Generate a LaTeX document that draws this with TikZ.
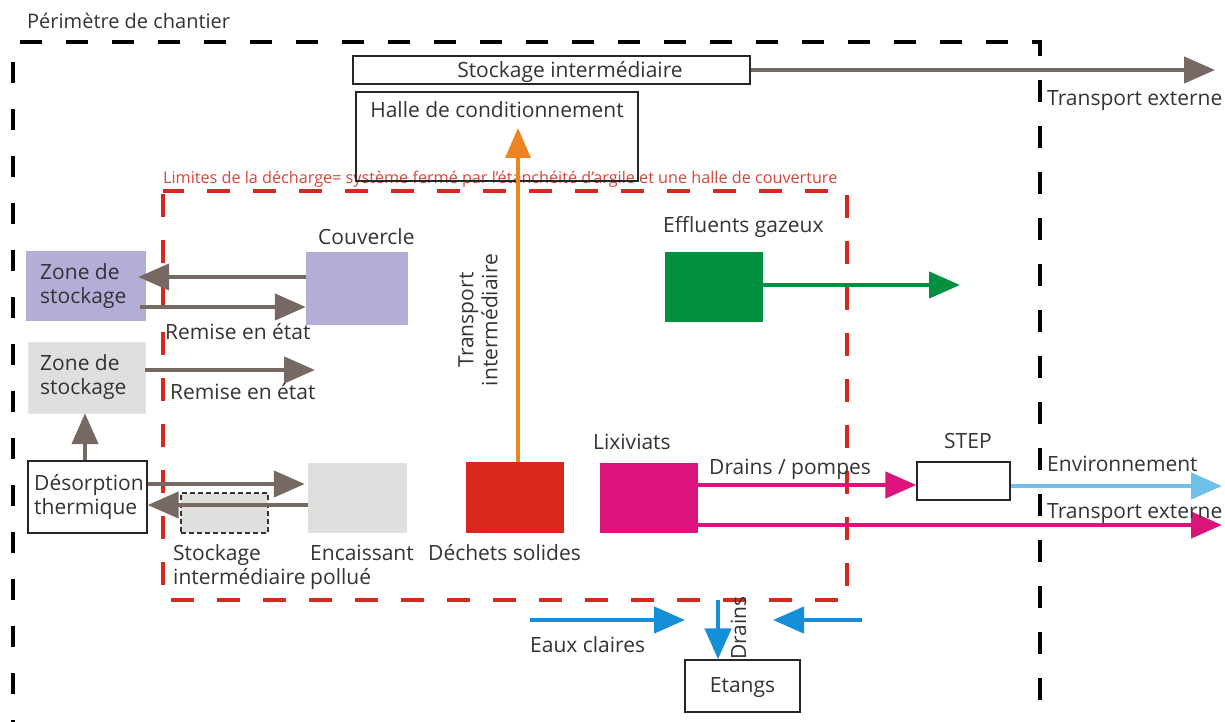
\documentclass[tikz,border=0pt]{standalone}
\usepackage{fontspec}
\setmainfont{Open Sans}
\usetikzlibrary{arrows.meta}
\definecolor{txt}{HTML}{333333}
\definecolor{flowbrown}{HTML}{766963}
\definecolor{lavender}{HTML}{B3AED7}
\definecolor{palegray}{HTML}{DFDFDD}
\definecolor{limitred}{HTML}{D7281E}
\definecolor{limittxt}{HTML}{D8443A}
\definecolor{wastered}{HTML}{D8281C}
\definecolor{leachate}{HTML}{DC137B}
\definecolor{gasgreen}{HTML}{009040}
\definecolor{transorange}{HTML}{EB8421}
\definecolor{envblue}{HTML}{6CC0EA}
\definecolor{waterblue}{HTML}{1590D8}
\tikzset{
  lbl/.style={inner sep=0pt, text=txt, font=\fontsize{21}{24}\selectfont},
  box/.style={draw=black!85, line width=1.3pt, fill=white, inner sep=0pt},
  fillbox/.style={draw=none, inner sep=0pt},
  flow/.style={line width=4.5pt, -{Triangle[length=31pt,width=26pt]}},
  thinflow/.style={line width=3.5pt, -{Triangle[length=30pt,width=25pt]}},
}
\begin{document}
\begin{tikzpicture}[x=1pt,y=-1pt]
\useasboundingbox (0,0) rectangle (1225,722);

% site perimeter (open at the bottom)
\draw[line width=4pt, dash pattern=on 22pt off 24pt]
  (20,42) -- (1040,42) -- (1040,722);
\draw[line width=4pt, dash pattern=on 21pt off 26pt]
  (13,62) -- (13,722);
\node[lbl, font=\fontsize{20}{24}\selectfont, anchor=base west] (perim) at (27,29) {Périmètre de chantier};

% landfill limit
\draw[limitred, line width=4pt, dash pattern=on 23pt off 23pt, dash phase=-3pt]
  (163,191) rectangle (847,600);
\node[inner sep=0pt, text=limittxt, font=\fontsize{16.2}{18}\selectfont, anchor=base west]
  (limit) at (163,184) {Limites de la décharge= système fermé par l’étanchéité d’argile et une halle de couverture};

% top boxes
\node[box, minimum width=397pt, minimum height=28pt] (stock) at (551.5,70) {};
\node[lbl, anchor=base] (stocktxt) at (570,78) {Stockage intermédiaire};
\node[box, fill=none, minimum width=282pt, minimum height=89pt] (halle) at (497,136.5) {};
\node[lbl, anchor=base] (halletxt) at (497,118) {Halle de conditionnement};

% left column
\node[fillbox, fill=lavender, minimum width=120pt, minimum height=70pt] (zone1) at (86,286) {};
\node[lbl, align=left, anchor=west] (zone1txt) at (40,286) {Zone de\\stockage};
\node[fillbox, fill=palegray, draw=black!10, minimum width=117pt, minimum height=71pt] (zone2) at (86.5,377.5) {};
\node[lbl, align=left, anchor=west] (zone2txt) at (40,377.5) {Zone de\\stockage};
\node[box, minimum width=119pt, minimum height=72pt] (deso) at (87.5,497) {};
\node[lbl, align=left, anchor=west] (desotxt) at (34,497) {Désorption\\thermique};

% cover
\node[fillbox, fill=lavender, minimum width=102pt, minimum height=73pt] (couv) at (357,288.5) {};
\node[lbl, anchor=base west] (couvtxt) at (318,244) {Couvercle};

% intermediate storage (dashed) and polluted soil
\node[fillbox, fill=palegray, draw=black!80, line width=1.2pt, dash pattern=on 5pt off 3pt,
  minimum width=87pt, minimum height=40pt] (interm) at (224.5,513) {};
\node[lbl, align=left, anchor=north west] (intermtxt) at (173,544.5) {Stockage\\intermédiaire};
\node[fillbox, fill=palegray, minimum width=99pt, minimum height=70pt] (encai) at (357.5,498) {};
\node[lbl, align=left, anchor=north west] (encaitxt) at (310,544.5) {Encaissant\\pollué};

% solid waste
\node[fillbox, fill=wastered, minimum width=98pt, minimum height=71pt] (dech) at (515,497.5) {};
\node[lbl, anchor=base west] (dechtxt) at (428,560) {Déchets solides};

% leachate
\node[fillbox, fill=leachate, minimum width=98pt, minimum height=70pt] (lixi) at (649,498) {};
\node[lbl, anchor=base west] (lixitxt) at (593,449) {Lixiviats};
\node[box, minimum width=93pt, minimum height=38pt] (step) at (963.5,481) {};
\node[lbl, anchor=base west] (steptxt) at (944,448) {STEP};

% gaseous effluents
\node[fillbox, fill=gasgreen, minimum width=98pt, minimum height=70pt] (gaz) at (714,287) {};
\node[lbl, anchor=base west] (gaztxt) at (663,232) {Effluents gazeux};

% ponds
\node[box, minimum width=115pt, minimum height=52pt] (etangs) at (742.5,686) {};
\node[lbl] (etangstxt) at (742.5,688) {Etangs};

% free arrow ends
\coordinate (extA) at (1215,70);
\coordinate (gazend) at (960,285);
\coordinate (envend) at (1222,486);
\coordinate (extB) at (1222,525);
\coordinate (zone2end) at (315,370);
\coordinate (halleend) at (518,128);
\coordinate (clearL) at (530,620);
\coordinate (clearLend) at (685,620);
\coordinate (clearR) at (862,620);
\coordinate (clearRend) at (773,620);
\coordinate (drainstart) at (718,600);

% brown transfers
\draw[flow, flowbrown] (stock.east) -- (extA |- stock.east);
\draw[flow, flowbrown] (couv.west |- 0,277) -- ([xshift=-8pt]zone1.east |- 0,277);
\draw[flow, flowbrown] ([xshift=-6pt]zone1.east |- 0,307) -- (couv.west |- 0,307);
\draw[flow, flowbrown] (zone2.east |- 0,370) -- (zone2end);
\draw[flow, flowbrown] (deso.north -| 85,0) -- (zone2.south -| 85,0);
\draw[flow, flowbrown] (deso.east |- 0,484) -- ([xshift=-3pt]encai.west |- 0,484);
\draw[flow, flowbrown] (encai.west |- 0,505) -- (deso.east |- 0,505);

% labels on the transfers
\node[lbl, anchor=base west] (rem1) at (165,339) {Remise en état};
\node[lbl, anchor=base west] (rem2) at (170,399) {Remise en état};

% intermediate transport
\draw[thinflow, transorange] (dech.north -| halleend) -- (halleend);
\node[lbl, rotate=90, align=center] (transtxt) at (478,320) {Transport\\intermédiaire};

% gas
\draw[flow, gasgreen] (gaz.east |- gazend) -- (gazend);

% leachate flows
\draw[flow, leachate] (lixi.east |- 0,485) -- (step.west |- 0,485);
\node[lbl, anchor=base west] (draintxt) at (709,474) {Drains / pompes};
\draw[flow, envblue] (step.east |- envend) -- (envend);
\node[lbl, anchor=base west] (envtxt) at (1047,471) {Environnement};
\draw[flow, leachate] (lixi.east |- extB) -- (extB);
\node[lbl, anchor=base west] (exttxtB) at (1047,518) {Transport externe};
\node[lbl, anchor=base west] (exttxtA) at (1047,106) {Transport externe};

% clear water and drains
\draw[flow, waterblue] (clearL) -- (clearLend);
\draw[flow, waterblue] (clearR) -- (clearRend);
\draw[flow, waterblue] (drainstart) -- (etangs.north -| drainstart);
\node[lbl, anchor=base west] (eauxtxt) at (530,652) {Eaux claires};
\node[lbl, rotate=90, anchor=base west] (drainstxt) at (746,660) {Drains};
\end{tikzpicture}
\end{document}
